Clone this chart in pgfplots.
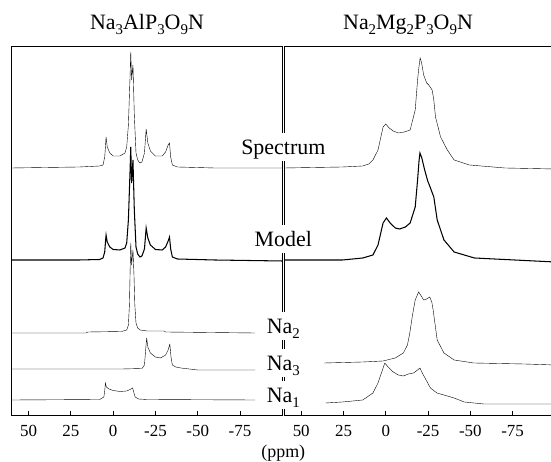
\documentclass[border=0pt]{standalone}
\usepackage{fontspec}
\setmainfont{Liberation Serif}
\usepackage{pgfplots}
\pgfplotsset{compat=1.18}
\newcommand\sub[1]{\raisebox{-0.22em}{\scalebox{0.68}{#1}}}
\begin{document}
\begin{tikzpicture}[x=1bp,y=1bp]
\useasboundingbox (0,0) rectangle (551,462);
\pgfplotsset{
  nmr/.style={
    scale only axis, width=270.6bp, height=369bp,
    anchor=south west,
    xmin=-100, xmax=60, x dir=reverse, ymin=0, ymax=369,
    axis line style={line width=0.9bp},
    ytick=\empty,
    xtick={50,25,0,-25,-50,-75},
    xticklabels={50,25,0,-25,-50,-75},
    xtick pos=left, tick align=inside, major tick length=4bp,
    tick style={line width=0.9bp, black},
    xticklabel style={font=\fontsize{17}{17}\selectfont, yshift=-7bp},
    cycle list={{black, line width=1.05bp, mark=none, line join=round}},
    clip=false,
  }
}
% left panel: Na3AlP3O9N
\begin{axis}[nmr, at={(11.7bp,47bp)}]
% Spectrum
\addplot coordinates {(60,247)(20,248)(8,249)(6,250)(5,258)(4.5,270)(4.2,278)(3.5,268)(2,262)(0,259)(-4,259)(-7,262)(-8,268)(-9,290)(-10,340)(-10.4,363)(-10.9,335)(-11.7,350)(-12.5,300)(-13.5,262)(-14.5,255)(-15.8,252)(-17,253)(-18.5,262)(-19.5,286)(-20.5,272)(-22,264)(-25,259)(-29,259)(-31,263)(-32.5,270)(-33.3,272)(-34,258)(-35,250)(-38,248)(-60,247)(-100,247)};
% Model
\addplot coordinates {(60,155)(20,155)(8,155.5)(6,157)(5,163)(4.6,172)(4.2,180)(3.5,173)(2,168)(0,165.5)(-4,165)(-7,167)(-8,172)(-9,195)(-10,245)(-10.4,268)(-10.9,232)(-11.7,255)(-12.5,205)(-13.5,168)(-14.5,161)(-15.8,158)(-17,159)(-18.5,166)(-19.5,187)(-20.5,177)(-22,170)(-25,165.5)(-29,165)(-31,168)(-32.5,174)(-33.3,178)(-34,166)(-35,158)(-38,156)(-60,155)(-100,154)};
% Na2
\addplot coordinates {(60,82)(16,82)(15,83)(-5,83.5)(-8,85)(-9,90)(-9.6,110)(-10.1,150)(-10.4,172)(-10.9,150)(-11.7,165)(-12.3,140)(-12.8,110)(-13.5,92)(-14.5,87)(-16,85)(-20,84)(-30,84)(-31,83)(-84,82)};
% Na3
\addplot coordinates {(60,46)(-5,46)(-17,46.5)(-18.5,50)(-19.2,65)(-19.8,77)(-20.5,68)(-22,62)(-25,58)(-28,57)(-31,60)(-32.5,65)(-33.5,71)(-34.2,58)(-35,50)(-37,48)(-40,47)(-45,46)(-50,45)(-84,45)};
% Na1
\addplot coordinates {(60,15)(8,15.5)(5.5,18)(5,24)(4.6,32)(4,28)(2.5,26)(0,24.5)(-4,23.5)(-8,24)(-10,25.5)(-11.5,27)(-12.3,22)(-13,18)(-15,16)(-20,15.5)(-84,15)};
\end{axis}
% right panel: Na2Mg2P3O9N
\begin{axis}[nmr, at={(284.3bp,47bp)}]
% Spectrum
\addplot coordinates {(60,247)(25.6,248)(13.6,249)(10,251)(7.6,255)(4.6,265)(1.6,288)(0,291)(-2,287)(-4.4,284)(-7.4,282)(-11,283)(-14.4,285)(-17.4,305)(-18.8,335)(-19.4,345)(-20.3,357)(-21.2,352)(-22.4,340)(-24.2,332)(-25.4,330)(-27.4,325)(-28.4,315)(-29.4,298)(-32.4,278)(-36.4,265)(-40.4,255)(-49.4,250)(-70.4,247)(-100,246)};
% Model
\addplot coordinates {(60,155)(25.6,155)(13.6,157)(7.6,160)(4.6,170)(1.6,192)(-0.4,197)(-2.6,192)(-5.6,187)(-8.2,186)(-11.6,188)(-14.4,192)(-17.4,208)(-18.8,235)(-19.7,255)(-20.2,262)(-21.3,257)(-23,245)(-24.8,234)(-26.2,228)(-28.4,218)(-30.4,195)(-34.4,175)(-40.4,163)(-52.4,157)(-100,153)};
% Na2 site
\addplot coordinates {(36.4,52)(13.6,53)(1.6,54)(-5.6,57)(-10.4,62)(-12.8,70)(-14.2,82)(-15.8,100)(-17.4,115)(-19.4,123)(-20.6,120)(-22.4,115)(-24.2,116)(-26,118)(-27.2,113)(-28,105)(-30.4,75)(-34.4,62)(-40.4,55)(-52,52)(-82,51)(-100,50)};
% Na1 site
\addplot coordinates {(35.6,12)(25.6,13)(13.6,15)(7.6,22)(4.6,32)(2.6,42)(0.6,52)(-1.4,48)(-4.4,43)(-7.4,40)(-10.4,39)(-13.4,41)(-16.4,42)(-18.8,45)(-20.2,47)(-21.6,42)(-23.2,37)(-26.4,27)(-30.2,22)(-34.4,20)(-40.4,17)(-46.4,13)(-58,11)(-100,11)};
\end{axis}
% titles and labels
\node[anchor=base, font=\fontsize{22}{22}\selectfont] at (147,432) {Na\sub{3}AlP\sub{3}O\sub{9}N};
\node[anchor=base, font=\fontsize{22}{22}\selectfont] at (408,432) {Na\sub{2}Mg\sub{2}P\sub{3}O\sub{9}N};
\tikzset{lab/.style={anchor=base, fill=white, inner xsep=2bp, inner ysep=2bp, text height=19.5bp, text depth=4.5bp, font=\fontsize{22}{22}\selectfont}}
\node[lab] at (283.3,307) {Spectrum};
\node[lab] at (283.3,215) {Model};
\node[lab] at (283.3,128) {Na\sub{2}};
\node[lab] at (283.3,91) {Na\sub{3}};
\node[lab] at (283.3,59) {Na\sub{1}};
\node[anchor=base, font=\fontsize{18}{18}\selectfont] at (283.3,4.5) {(ppm)};
\end{tikzpicture}
\end{document}
